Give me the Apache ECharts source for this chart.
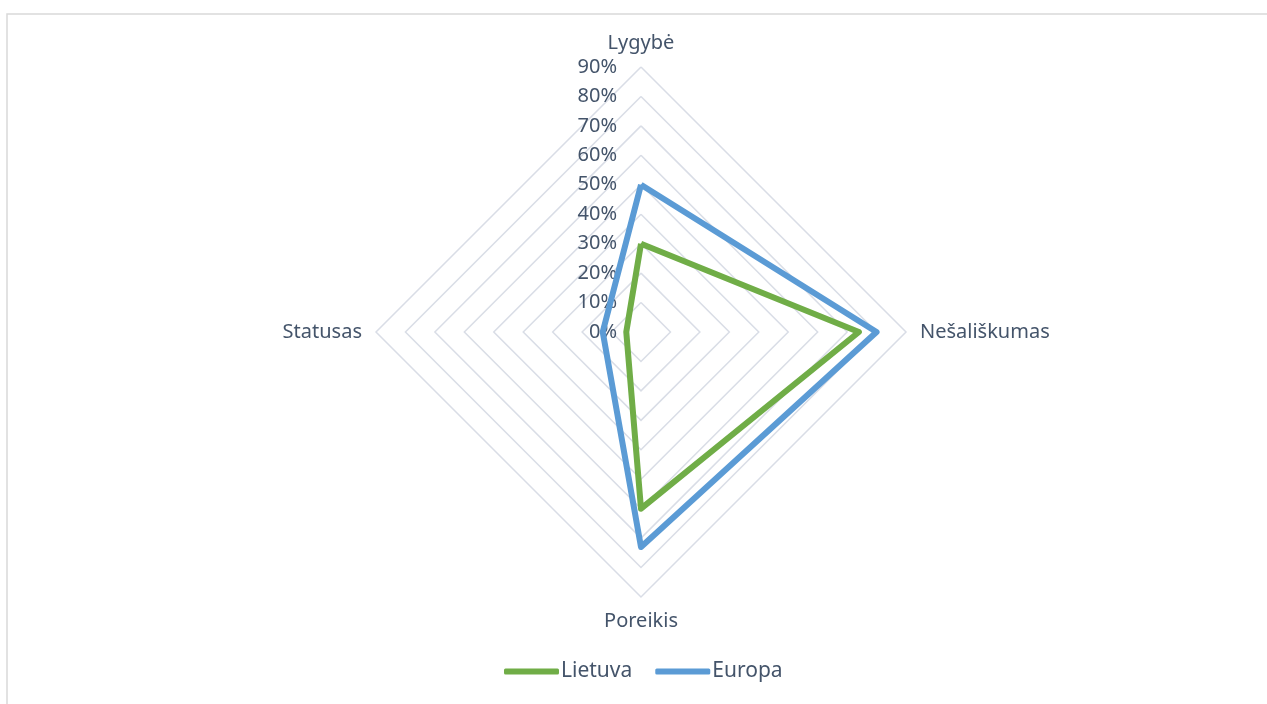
<!DOCTYPE html>
<html>
<head>
<meta charset="utf-8">
<script src="https://cdn.jsdelivr.net/npm/echarts@6/dist/echarts.min.js"></script>
<style>
  html, body { margin: 0; padding: 0; background: #fff; }
  #chart { width: 1267px; height: 704px; }
</style>
</head>
<body>
<div id="chart"></div>
<script>
  // indicators listed counter-clockwise from the top (ECharts radar order)
  var indicators = ["Lygybė", "Statusas", "Poreikis", "Nešališkumas"];
  var lietuva = [30, 5, 60, 74];
  var europa = [50, 13, 73, 80];
  var maxValue = 90;

  var textColor = "#44546a";
  var fontFamily = "Noto Sans";

  var myChart = echarts.init(document.getElementById("chart"));
  var option = {
    backgroundColor: "#ffffff",
    animation: false,
    textStyle: { fontFamily: fontFamily },
    graphic: [
      {
        type: "rect",
        shape: { x: 7, y: 14, width: 1300, height: 720 },
        style: { fill: "none", stroke: "#d9d9d9", lineWidth: 1.5 },
        silent: true,
      },
    ],
    legend: {
      bottom: 17,
      left: 499,
      itemWidth: 55,
      itemHeight: 6,
      itemGap: 23,
      icon: "roundRect",
      textStyle: { color: textColor, fontSize: 21, fontFamily: fontFamily, padding: [0, 0, 0, -3] },
      data: ["Lietuva", "Europa"],
    },
    radar: {
      center: [641, 332],
      radius: 265,
      startAngle: 90,
      shape: "polygon",
      splitNumber: 9,
      nameGap: 14,
      axisName: { color: textColor, fontSize: 20, fontFamily: fontFamily },
      splitLine: { lineStyle: { color: "#d9dde6", width: 1.5 } },
      splitArea: { show: false },
      axisLine: { show: false },
      axisTick: { show: false },
      indicator: indicators.map(function (n, i) {
        return {
          name: n,
          min: 0,
          max: maxValue,
          axisLabel: {
            show: i === 0,
            color: textColor,
            fontSize: 20,
            fontFamily: fontFamily,
            formatter: "{value}%",
            margin: 24,
            showMaxLabel: true,
            showMinLabel: true,
          },
        };
      }),
    },
    series: [
      {
        type: "radar",
        symbol: "none",
        data: [
          { name: "Lietuva", value: lietuva, lineStyle: { color: "#70ad47", width: 6 }, itemStyle: { color: "#70ad47" } },
          { name: "Europa", value: europa, lineStyle: { color: "#5b9bd5", width: 6 }, itemStyle: { color: "#5b9bd5" } },
        ],
      },
    ],
  };
  myChart.setOption(option);
</script>
</body>
</html>
